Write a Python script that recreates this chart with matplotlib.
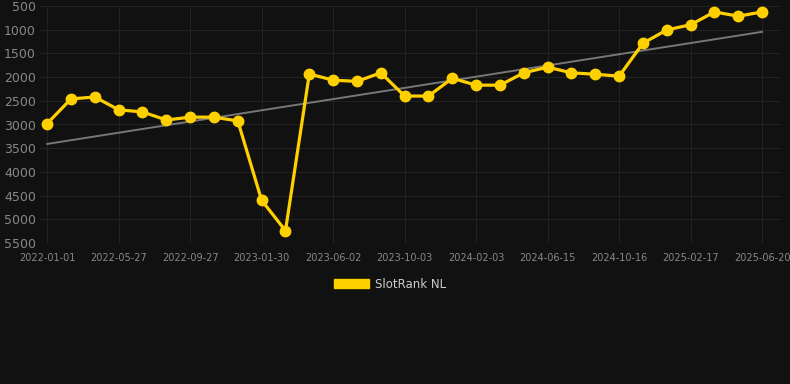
import matplotlib.pyplot as plt
import numpy as np

# rank values (lower is better), one per period
ranks = [2980, 2460, 2420, 2690, 2735, 2905, 2845, 2845, 2925, 4600,
         5240, 1935, 2065, 2090, 1910, 2400, 2400, 2025, 2170, 2170,
         1910, 1790, 1910, 1940, 1980, 1285, 1005, 895, 625, 715, 625]
tick_labels = ["2022-01-01", "2022-05-27", "2022-09-27", "2023-01-30", "2023-06-02",
               "2023-10-03", "2024-02-03", "2024-06-15", "2024-10-16", "2025-02-17",
               "2025-06-20"]
trend = [3410, 1045]  # start / end of the trend line
yticks = [500, 1000, 1500, 2000, 2500, 3000, 3500, 4000, 4500, 5000, 5500]

bg = "#111111"
gold = "#FFD000"

fig = plt.figure(figsize=(7.9, 3.84), dpi=100, facecolor=bg)
ax = fig.add_axes([40 / 790, (384 - 243) / 384, 740 / 790, 237 / 384], facecolor=bg)

x = np.arange(len(ranks))
ax.plot([x[0], x[-1]], trend, color="#777777", lw=1.4, zorder=2)
ax.plot(x, ranks, color=gold, lw=2.3, marker="o", ms=7.5, zorder=3,
        label="SlotRank NL")

ax.set_ylim(5500, 500)
ax.set_yticks(yticks)
ax.set_xlim(-0.3, 30.75)
ax.set_xticks(x[::3])
ax.set_xticklabels(tick_labels)

ax.grid(True, color="#222222", lw=0.8)
ax.set_axisbelow(True)
for s in ax.spines.values():
    s.set_visible(False)
ax.tick_params(axis="y", colors="#888888", labelsize=9, length=0, pad=3)
ax.tick_params(axis="x", colors="#888888", labelsize=7, length=0, pad=7)

# legend: box + label below the chart
leg = fig.legend(handles=[plt.Rectangle((0, 0), 1, 1, color=gold)],
                 labels=["SlotRank NL"], loc="center", bbox_to_anchor=(390 / 790, 1 - 284 / 384),
                 frameon=False, handlelength=3.0, handleheight=0.9, fontsize=8.5,
                 labelcolor="#cccccc", handletextpad=0.5)

fig.savefig("out.png", dpi=100, facecolor=bg)
